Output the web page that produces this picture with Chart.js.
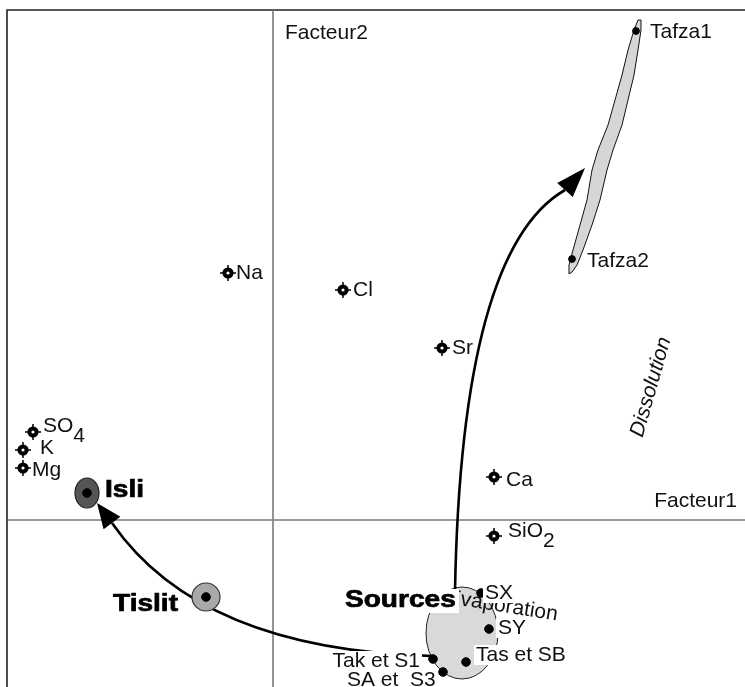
<!DOCTYPE html>
<html><head><meta charset="utf-8">
<script src="https://cdn.jsdelivr.net/npm/chart.js@4.4.1/dist/chart.umd.min.js"></script>
<style>html,body{margin:0;padding:0;background:#fff}canvas{display:block}</style>
</head><body>
<canvas id="c" width="745" height="687"></canvas>
<script>
// ---- Data (factor coordinates, Facteur1 / Facteur2) ----
const variableNames = ['Na', 'Cl', 'Sr', 'SO4', 'K', 'Mg', 'Ca', 'SiO2'];
const variableF1 = [-0.45, 0.70, 1.69, -2.40, -2.50, -2.50, 2.21, 2.21];
const variableF2 = [2.47, 2.30, 1.72, 0.88, 0.70, 0.52, 0.43, -0.16];

const sampleNames = ['Tafza1', 'Tafza2', 'Isli', 'Tislit', 'SX', 'SY', 'Tas et SB', 'Tak et S1', 'SA et  S3'];
const sampleF1 = [3.63, 2.99, -1.86, -0.67, 2.08, 2.16, 1.93, 1.60, 1.70];
const sampleF2 = [4.89, 2.61, 0.27, -0.77, -0.73, -1.09, -1.42, -1.39, -1.52];

// group envelopes (data units)
const isliGroup = [-1.86, 0.27, 0.12, 0.15];      // cx, cy, rx, ry
const tislitGroup = [-0.67, -0.77, 0.14, 0.14];
const sourcesGroup = [1.89, -1.13, 0.36, 0.46];
const tafzaOutlineF1 = [3.65, 3.61, 3.55, 3.49, 3.42, 3.35, 3.25, 3.19, 3.14, 3.07, 3.00, 2.96, 2.96,
                        2.99, 3.04, 3.10, 3.19, 3.27, 3.34, 3.40, 3.49, 3.55, 3.61, 3.65, 3.68, 3.68];
const tafzaOutlineF2 = [5.00, 4.90, 4.70, 4.45, 4.20, 3.95, 3.70, 3.50, 3.20, 2.95, 2.70, 2.55, 2.46,
                        2.48, 2.55, 2.70, 2.95, 3.20, 3.50, 3.70, 3.95, 4.20, 4.45, 4.70, 4.90, 5.00];

// arrows: start, control, end, tip (data units)
const evaporationArrowF1 = [1.82, 1.88, 2.92, 3.12];
const evaporationArrowF2 = [-0.72, 2.70, 3.30, 3.52];
const tislitArrowF1 = [1.59, -0.73, -1.61, -1.76];
const tislitArrowF2 = [-1.36, -1.30, -0.03, 0.17];

// scale bounds
const f1Range = [-2.73, 4.72];
const f2Range = [-1.67, 5.20];

// ---- label styles ----
const FONT = '"Liberation Sans", Arial, Helvetica, sans-serif';
const REG = '21px ' + FONT;
const BOLD = 'bold 23px ' + FONT;
const STRETCH = 1.22;
const varLabelStyle = {
  'Na': {dx: 8, dy: 0}, 'Cl': {dx: 10, dy: 0}, 'Sr': {dx: 10, dy: 0},
  'SO4': {dx: 10, dy: -6, main: 'SO', sub: '4'}, 'K': {dx: 17, dy: -2},
  'Mg': {dx: 9, dy: 2}, 'Ca': {dx: 12, dy: 3}, 'SiO2': {dx: 14, dy: -5, main: 'SiO', sub: '2'}
};
const sampleLabelStyle = {
  'Tafza1': {dx: 14, dy: 1, bg: false}, 'Tafza2': {dx: 15, dy: 2, bg: false},
  'Isli': {dx: 18, dy: -2, bold: true},
  'Tislit': {dx: -93, dy: 8, bold: true},
  'SX': {dx: 4, dy: 0, bg: true}, 'SY': {dx: 9, dy: -1, bg: true},
  'Tas et SB': {dx: 10, dy: -7, bg: true},
  'Tak et S1': {dx: -13, dy: 2, bg: true, align: 'right'},
  'SA et  S3': {dx: -96, dy: 8, bg: true}
};

const varPts = variableF1.map((v, i) => ({x: v, y: variableF2[i]}));
const smpPts = sampleF1.map((v, i) => ({x: v, y: sampleF2[i]}));
const smpRadius = sampleNames.map(n => n.startsWith('Tafza') ? 3.4 : 4.3);

function textW(ctx, s) { return ctx.measureText(s).width; }
function boldText(ctx, s, X, Y) {
  ctx.save(); ctx.translate(X, Y); ctx.scale(STRETCH, 1);
  ctx.font = BOLD; ctx.fillStyle = '#000'; ctx.strokeStyle = '#000'; ctx.lineWidth = 0.7;
  ctx.textAlign = 'left'; ctx.textBaseline = 'middle';
  ctx.fillText(s, 0, 0); ctx.strokeText(s, 0, 0); ctx.restore();
}

const annot = {
  id: 'annot',
  beforeDatasetsDraw(chart) {
    const {ctx, scales: {x, y}} = chart;
    const W = chart.width, H = chart.height;
    const px = v => x.getPixelForValue(v), py = v => y.getPixelForValue(v);
    ctx.save();
    // frame
    ctx.strokeStyle = '#222'; ctx.lineWidth = 1.6;
    ctx.beginPath(); ctx.moveTo(7, H + 5); ctx.lineTo(7, 10); ctx.lineTo(W + 5, 10); ctx.stroke();
    // factor axes
    ctx.strokeStyle = '#7a7a7a'; ctx.lineWidth = 1.6;
    ctx.beginPath(); ctx.moveTo(px(0), 10); ctx.lineTo(px(0), H); ctx.stroke();
    ctx.beginPath(); ctx.moveTo(8, py(0)); ctx.lineTo(W, py(0)); ctx.stroke();
    // axis titles
    ctx.fillStyle = '#111'; ctx.font = REG; ctx.textBaseline = 'middle';
    ctx.textAlign = 'left'; ctx.fillText('Facteur2', px(0) + 12, 33);
    ctx.textAlign = 'right'; ctx.fillText('Facteur1', 737, py(0) - 19);

    // Tafza envelope
    ctx.beginPath();
    tafzaOutlineF1.forEach((v, i) => { const X = px(v), Y = py(tafzaOutlineF2[i]); i ? ctx.lineTo(X, Y) : ctx.moveTo(X, Y); });
    ctx.closePath(); ctx.fillStyle = '#d6d6d6'; ctx.fill();
    ctx.strokeStyle = '#111'; ctx.lineWidth = 1; ctx.lineJoin = 'round'; ctx.stroke();

    const ell = (g, fill, stroke, lw) => {
      ctx.beginPath();
      ctx.ellipse(px(g[0]), py(g[1]), Math.abs(px(g[2]) - px(0)), Math.abs(py(g[3]) - py(0)), 0, 0, Math.PI * 2);
      ctx.fillStyle = fill; ctx.fill(); ctx.strokeStyle = stroke; ctx.lineWidth = lw; ctx.stroke();
    };
    ell(sourcesGroup, '#d9d9d9', '#222', 1);
    ell(isliGroup, '#555555', '#222', 1.2);

    // arrows
    const arrow = (fx, fy) => {
      const P = fx.map((v, i) => [px(v), py(fy[i])]);
      ctx.strokeStyle = '#000'; ctx.lineWidth = 2.6;
      ctx.beginPath(); ctx.moveTo(P[0][0], P[0][1]);
      ctx.quadraticCurveTo(P[1][0], P[1][1], P[2][0], P[2][1]); ctx.stroke();
      const dx = P[3][0] - P[2][0], dy = P[3][1] - P[2][1], L = Math.hypot(dx, dy);
      const nx = -dy / L * 10.5, ny = dx / L * 10.5;
      ctx.fillStyle = '#000'; ctx.beginPath();
      ctx.moveTo(P[3][0], P[3][1]);
      ctx.lineTo(P[2][0] + nx, P[2][1] + ny);
      ctx.lineTo(P[2][0] - nx, P[2][1] - ny);
      ctx.closePath(); ctx.fill();
    };
    arrow(evaporationArrowF1, evaporationArrowF2);
    arrow(tislitArrowF1, tislitArrowF2);

    ell(tislitGroup, '#a9a9a9', '#333', 1.2);

    // rotated texts
    ctx.fillStyle = '#111'; ctx.font = 'italic ' + REG;
    ctx.save(); ctx.translate(651, 387); ctx.rotate(-74 * Math.PI / 180);
    ctx.textAlign = 'center'; ctx.textBaseline = 'middle'; ctx.fillText('Dissolution', 0, 0); ctx.restore();
    ctx.font = REG;
    ctx.save(); ctx.translate(446, 603); ctx.rotate(9 * Math.PI / 180);
    ctx.textAlign = 'left'; ctx.textBaseline = 'alphabetic'; ctx.fillText('Evaporation', 0, 0); ctx.restore();
    ctx.restore();
  },
  afterDatasetsDraw(chart) {
    const {ctx, scales: {x, y}} = chart;
    const px = v => x.getPixelForValue(v), py = v => y.getPixelForValue(v);
    ctx.save();
    ctx.textBaseline = 'middle';
    // variable labels
    variableNames.forEach((n, i) => {
      const st = varLabelStyle[n];
      const X = px(variableF1[i]) + st.dx, Y = py(variableF2[i]) + st.dy;
      ctx.font = REG; ctx.fillStyle = '#111'; ctx.textAlign = 'left';
      if (st.sub) {
        ctx.fillText(st.main, X, Y);
        ctx.fillText(st.sub, X + textW(ctx, st.main), Y + 10);
      } else ctx.fillText(n, X, Y);
    });
    // sample labels
    sampleNames.forEach((n, i) => {
      const st = sampleLabelStyle[n];
      let X = px(sampleF1[i]) + st.dx, Y = py(sampleF2[i]) + st.dy;
      if (st.bold) { boldText(ctx, n, X, Y); return; }
      ctx.font = REG;
      const w = textW(ctx, n);
      if (st.align === 'right') X -= w;
      if (st.bg) { ctx.fillStyle = '#fff'; ctx.fillRect(X - 2, Y - 10, w + 4, 20); }
      ctx.fillStyle = '#111'; ctx.textAlign = 'left'; ctx.fillText(n, X, Y);
    });
    // group label "Sources"
    const sx = px(sourcesGroup[0]) - 117, sy = py(sourcesGroup[1]) - 32;
    ctx.font = BOLD;
    const sw = textW(ctx, 'Sources') * STRETCH;
    ctx.fillStyle = '#fff'; ctx.fillRect(sx - 2, sy - 12, Math.max(sw + 5, 116), 24);
    boldText(ctx, 'Sources', sx, sy);
    ctx.restore();
  }
};

new Chart(document.getElementById('c'), {
  type: 'scatter',
  data: {
    datasets: [
      {data: smpPts, pointStyle: 'circle', pointRadius: smpRadius, backgroundColor: '#000', borderColor: '#000', borderWidth: 1},
      {data: varPts, pointStyle: 'circle', pointRadius: 3.6, backgroundColor: '#fff', borderColor: '#000', borderWidth: 4},
      {data: varPts, pointStyle: 'cross', pointRadius: 8, borderColor: '#000', borderWidth: 1.5}
    ]
  },
  options: {
    responsive: false, animation: false, devicePixelRatio: 1,
    layout: {padding: 0, autoPadding: false},
    plugins: {legend: {display: false}, tooltip: {enabled: false}},
    scales: {
      x: {type: 'linear', min: f1Range[0], max: f1Range[1], display: false},
      y: {type: 'linear', min: f2Range[0], max: f2Range[1], display: false}
    }
  },
  plugins: [annot]
});
</script>
</body></html>
